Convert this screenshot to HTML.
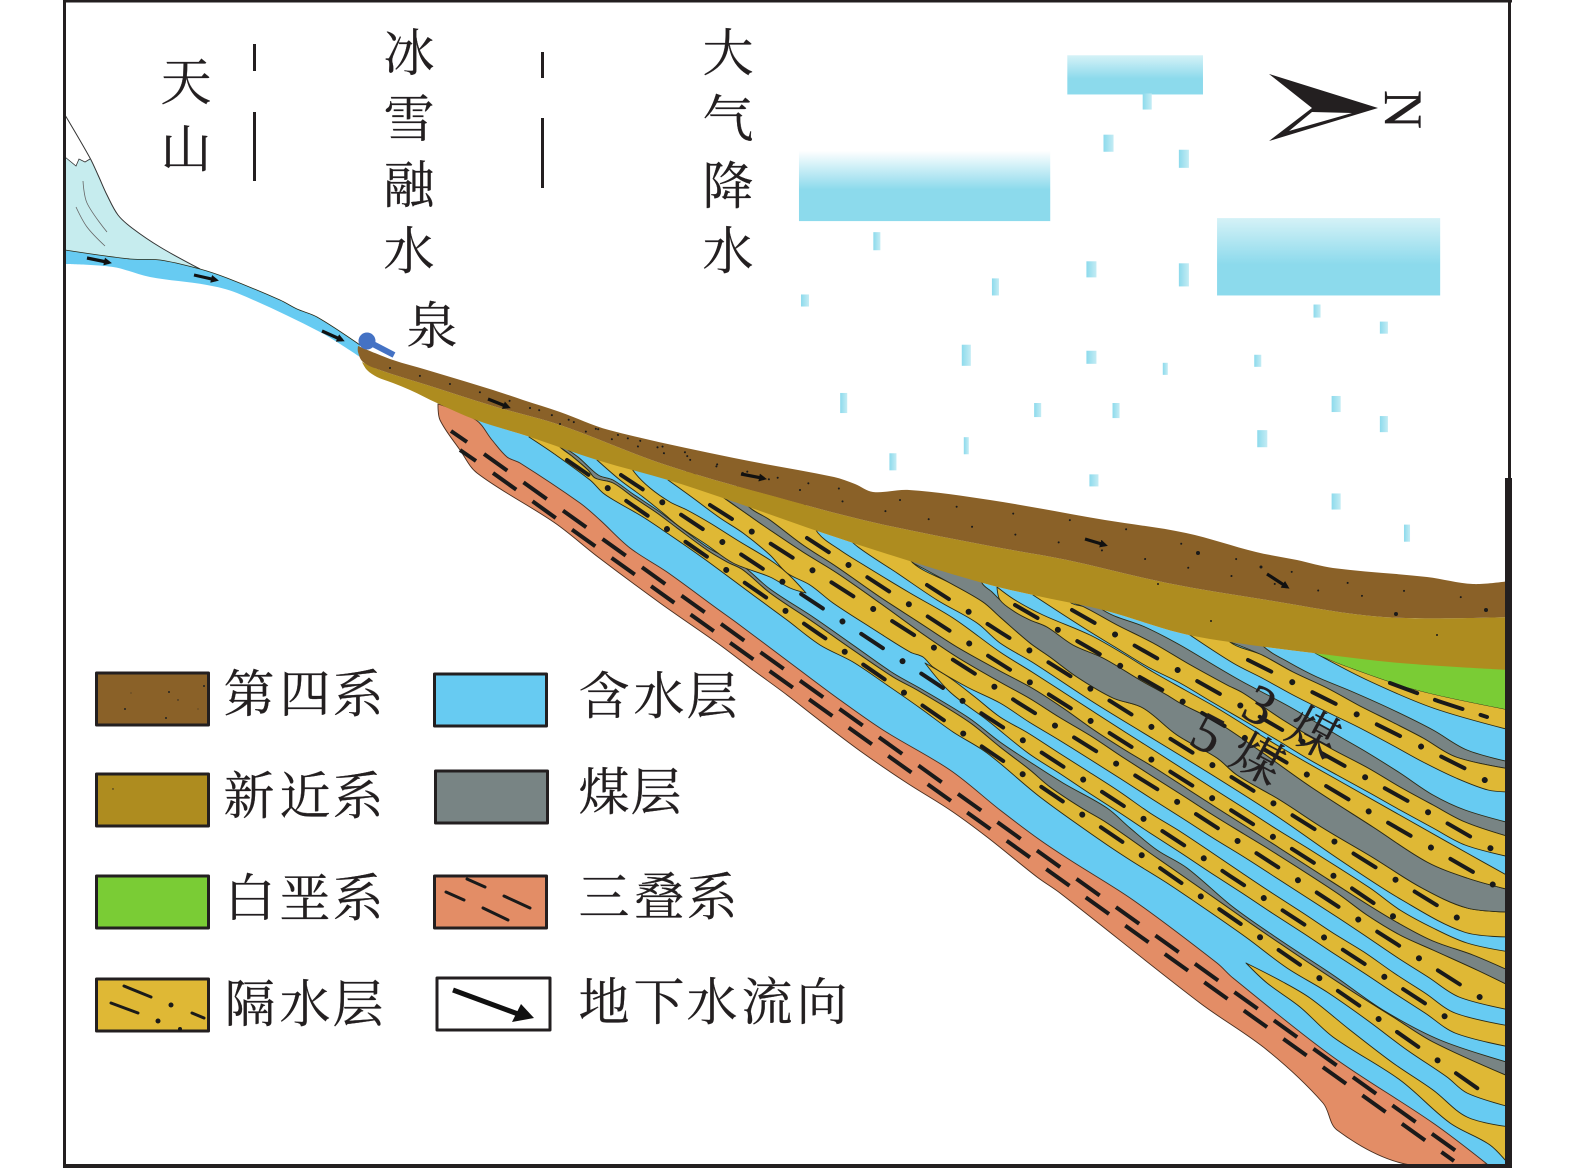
<!DOCTYPE html>
<html><head><meta charset="utf-8"><style>
html,body{margin:0;padding:0;background:#fff}
svg{display:block}
text{font-family:"Liberation Serif","Noto Serif CJK SC",serif;fill:#231f20;font-size:51px;stroke:#231f20;stroke-width:.25}
.b{stroke:#2b2a16;stroke-width:.9;stroke-linejoin:round}
.y{fill:#dfb835}.g{fill:#788484}
.d{fill:none;stroke:#1a1a1a;stroke-width:4;stroke-linecap:round;stroke-dasharray:26 46}
.o{fill:none;stroke:#1a1a1a;stroke-width:6;stroke-linecap:round;stroke-dasharray:.01 71.99;stroke-dashoffset:-49.5}
.t{fill:none;stroke:#1a1a1a;stroke-width:4;stroke-dasharray:28.6 20}
.p{fill:none;stroke:#1a1a1a;stroke-width:2;stroke-linecap:round}
.f{stroke:#111;stroke-width:3.2;marker-end:url(#ah)}
.lg{stroke:#231f20;stroke-width:3;stroke-linejoin:round}
.m{stroke:#1a1a1a;stroke-width:3;stroke-linecap:round}
</style></head><body>
<svg width="1575" height="1168" viewBox="0 0 1575 1168" xmlns="http://www.w3.org/2000/svg">
<defs>
<linearGradient id="c" x1="0" y1="0" x2="0" y2="1"><stop offset="0" stop-color="#fff"/><stop offset=".55" stop-color="#8cdaec"/><stop offset="1" stop-color="#8cdaec"/></linearGradient>
<linearGradient id="c2" x1="0" y1="0" x2="0" y2="1"><stop offset="0" stop-color="#d5f2f7"/><stop offset=".6" stop-color="#8cdaec"/><stop offset="1" stop-color="#8cdaec"/></linearGradient>
<linearGradient id="r" x1="0" y1="0" x2="1" y2="0"><stop offset="0" stop-color="#8cdaec"/><stop offset="1" stop-color="#c4ecf4"/></linearGradient>
<marker id="ah" markerWidth="10" markerHeight="10" refX="5" refY="4" orient="auto" markerUnits="userSpaceOnUse"><path d="M0 0L8 4L0 8z" fill="#111"/></marker>
<clipPath id="cp"><rect x="63" y="0" width="1443" height="1165"/></clipPath>
<path id="l1" d="M567 460L987 750L1130 847L1190 889L1370 1013L1487 1095"/>
<path id="l2" d="M621 475L987 717L1193 851L1230 876L1455 1023"/>
<path id="l3" d="M710 505L980 677L1017 702L1165 794L1287 873L1348 913L1489 1003"/>
<path id="l4" d="M807 538L990 657L1322 868L1400 921"/>
<path id="l5" d="M927 585L1000 632L1383 872L1464 922"/>
<path id="l6" d="M1015 605L1103 656L1166 692L1228 728L1311 777L1373 814L1480 876L1498 888"/>
<path id="l7" d="M1072 610L1160 660L1243 707L1325 755L1433 815L1497 852"/>
<path id="l8" d="M1248 660L1468 770L1488 782"/>
<path id="l9" d="M1390 683L1438 701L1487 717"/>
</defs>

<!-- clouds and rain -->
<g transform="scale(1.005)">
<rect x="795" y="150" width="250" height="70" fill="url(#c)"/>
<rect x="1062" y="55" width="135" height="39" fill="url(#c2)"/>
<rect x="1211" y="217" width="222" height="77" fill="url(#c2)"/>
<g fill="url(#r)">
<rect x="1137" y="93" width="9" height="16"/><rect x="1098" y="134" width="10" height="17"/><rect x="1173" y="149" width="10" height="18"/><rect x="869" y="231" width="7" height="18"/><rect x="1081" y="260" width="10" height="16"/><rect x="1173" y="262" width="10" height="23"/><rect x="987" y="277" width="7" height="17"/><rect x="797" y="293" width="8" height="12"/><rect x="1307" y="303" width="7" height="13"/><rect x="1373" y="320" width="8" height="12"/><rect x="957" y="343" width="9" height="21"/><rect x="1081" y="349" width="10" height="13"/><rect x="1157" y="361" width="5" height="12"/><rect x="1248" y="353" width="7" height="12"/><rect x="836" y="391" width="7" height="20"/><rect x="1029" y="401" width="7" height="14"/><rect x="1107" y="401" width="7" height="15"/><rect x="1325" y="394" width="9" height="16"/><rect x="1373" y="414" width="8" height="16"/><rect x="1251" y="428" width="10" height="17"/><rect x="959" y="435" width="5" height="17"/><rect x="885" y="451" width="7" height="17"/><rect x="1084" y="472" width="9" height="12"/><rect x="1325" y="491" width="9" height="16"/><rect x="1397" y="522" width="6" height="17"/>
</g></g>

<g clip-path="url(#cp)" id="geo">
<!-- mountain and channel -->
<polygon points="65,157 76,166 79,159 85,162 90,159 98,175 107,195 118,215 132,228 160,247 200,269 160,260 130,259 65,250" fill="#c6ecee"/>
<polyline points="65,115 90,158 98,175 107,195 118,215 132,228 160,247 200,269" fill="none" stroke="#333" stroke-width="1"/>
<polyline points="65,157 76,166 79,159 85,162 90,159" fill="none" stroke="#333" stroke-width=".8"/>
<polyline points="83,181 87,203 107,232" fill="none" stroke="#666" stroke-width=".8"/>
<polyline points="76,207 87,227 105,246" fill="none" stroke="#666" stroke-width=".8"/>
<polygon points="65,250 130,259 160,260 200,269 227,278 280,300 297,309 317,317 360,345 360,357 320,332 237,293 207,285 150,277 113,267 65,264" fill="#67cbf2"/>
<polyline points="65,250 130,259 160,260 200,269 227,278 280,300 297,309 317,317 360,345" fill="none" stroke="#2b2a16" stroke-width=".8"/>

<!-- base aquifer -->
<polygon points="476,420 530,437 666,478 723,498 823,533 916,563 990,585 1033,595 1103,610 1180,633 1230,642 1313,653 1400,663 1510,670 1510,1166 1487,1164 1433,1123 1333,1057 1233,978 1217,963 1133,900 1070,860 1040,840 1000,810 950,770 883,730 840,700 797,668 737,623 719,610 667,572 630,548 600,520 580,503 520,463 507,457 492,440" fill="#67cbf2"/>

<!-- Triassic -->
<polygon class="b" points="438,404 476,420 492,440 507,457 520,463 580,503 600,520 630,548 667,572 719,610 737,623 797,668 840,700 883,730 950,770 1000,810 1040,840 1070,860 1133,900 1217,963 1233,978 1333,1057 1433,1123 1487,1164 1405,1164 1337,1130 1323,1103 1267,1050 1200,1003 1060,893 1037,877 987,837 950,810 907,783 863,753 823,723 787,695 753,670 720,645 660,603 598,557 555,523 477,473 460,450 440,420" fill="#e38d66" style="stroke:#4a2f20"/>
<line class="t" x1="484" y1="454" x2="1456" y2="1151"/>
<line class="t" x1="493" y1="473" x2="1454" y2="1161"/>
<line x1="460" y1="450" x2="476" y2="461" stroke="#1a1a1a" stroke-width="4"/>
<line x1="451" y1="431" x2="467" y2="442" stroke="#1a1a1a" stroke-width="4"/>

<!-- wedge -->
<polygon class="b y" points="1246,963 1283,982 1310,998 1350,1030 1393,1063 1433,1090 1467,1117 1510,1127 1510,1166 1490,1145 1450,1123 1400,1080 1333,1037 1300,1007 1267,983"/>

<!-- band I -->
<polygon class="b g" points="562,446 578,457 592,470 600,476 613,480 633,494 657,510 677,525 707,547 727,558 743,566 770,589 813,617 853,645 893,673 923,690 969,718 1000,742 1030,762 1063,783 1107,808 1130,828 1157,850 1187,868 1233,907 1283,942 1333,975 1383,1010 1440,1040 1510,1063 1510,1077 1433,1042 1393,1017 1350,990 1300,957 1250,923 1213,897 1157,858 1107,823 1080,807 1050,787 1030,770 1000,747 969,722 917,690 893,677 853,650 813,622 770,593 743,570 727,562 707,550 677,528 657,513 633,497 613,483 595,478 588,470 573,457 560,447"/>
<polygon class="b y" points="529,437 553,453 590,480 603,493 617,502 643,517 667,533 703,558 753,595 787,620 820,645 853,662 887,685 920,708 953,732 987,753 1040,797 1100,840 1130,860 1167,883 1207,910 1247,938 1287,968 1327,992 1367,1020 1407,1050 1447,1077 1467,1093 1510,1107 1510,1077 1433,1042 1393,1017 1350,990 1300,957 1250,923 1213,897 1157,858 1107,823 1080,807 1050,787 1030,770 1000,747 969,722 917,690 893,677 853,650 813,622 770,593 743,570 727,562 707,550 677,528 657,513 633,497 613,483 595,478 588,470 573,457 560,447 545,430"/>

<!-- band II -->
<polygon class="b y" points="597,460 620,480 643,497 663,513 680,527 707,545 733,563 770,577 790,588 806,593 787,573 770,560 737,540 710,523 687,510 670,502 650,488 635,473 620,450"/>
<polygon class="b y" points="925,663 950,678 975,697 1000,717 1028,733 1059,753 1089,772 1120,792 1150,813 1181,832 1211,852 1242,873 1272,893 1303,913 1333,933 1364,952 1394,973 1425,993 1455,1013 1510,1026 1510,1047 1455,1033 1425,1013 1394,993 1364,973 1333,953 1303,933 1272,913 1242,893 1211,873 1181,853 1150,833 1120,813 1089,793 1059,773 1028,753 987,720 950,692"/>

<!-- band III -->
<polygon class="b y" points="668,480 693,498 720,518 743,533 770,555 787,573 810,585 833,603 870,627 910,652 923,657 933,667 967,687 1000,703 1029,722 1059,740 1091,760 1121,779 1152,799 1182,818 1213,838 1244,857 1275,877 1337,917 1367,937 1398,958 1428,977 1459,997 1510,1010 1510,986 1477,970 1433,950 1400,935 1367,915 1337,893 1275,853 1244,834 1213,815 1182,795 1152,776 1121,756 1091,736 1059,717 1029,698 1000,682 957,657 920,632 880,603 837,573 803,552 770,530 747,514 720,495 690,470"/>

<!-- gray 4 -->
<polygon class="b g" points="720,495 747,505 770,520 803,545 837,567 880,597 920,623 957,647 1000,671 1032,688 1063,708 1094,730 1125,750 1155,768 1186,788 1217,808 1247,827 1278,847 1309,867 1370,906 1400,924 1433,941 1473,955 1510,971 1510,986 1477,970 1433,950 1400,935 1367,915 1337,893 1275,853 1244,834 1213,815 1182,795 1152,776 1121,756 1091,736 1059,717 1029,698 1000,682 957,657 920,632 880,603 837,573 803,552 770,530 747,514"/>

<!-- band IV -->
<polygon class="b y" points="818,533 840,550 867,567 910,593 953,618 1000,652 1032,672 1063,692 1094,712 1125,732 1155,751 1186,771 1217,791 1247,810 1278,830 1309,849 1370,888 1400,910 1433,928 1467,943 1510,952 1510,971 1473,955 1433,941 1400,924 1370,906 1309,867 1278,847 1247,827 1217,808 1186,788 1155,768 1125,750 1094,730 1063,708 1032,688 1000,671 957,647 920,623 880,597 837,567 803,545 770,520 747,505 735,480 800,500"/>

<!-- band V -->
<polygon class="b y" points="858,547 897,573 937,600 977,623 1000,643 1032,662 1093,702 1155,740 1217,778 1278,817 1340,860 1402,900 1464,932 1510,937 1510,912 1467,908 1422,888 1372,857 1323,828 1280,800 1237,775 1217,758 1177,735 1143,708 1113,698 1077,677 1050,657 1030,643 1000,617 983,602 950,583 913,563 890,530 840,530"/>

<!-- gray 3 -->
<polygon class="b g" points="913,563 950,583 983,602 1000,617 1030,643 1050,657 1077,677 1113,698 1143,708 1177,735 1217,758 1237,775 1280,800 1323,828 1372,857 1422,888 1467,908 1510,912 1510,890 1467,878 1427,862 1373,827 1311,787 1263,753 1217,722 1180,703 1167,695 1140,680 1103,658 1073,645 1047,627 1030,620 1015,612 1000,600 992,592 982,583 975,560 910,540"/>

<!-- yD -->
<polygon class="b y" points="997,587 1015,600 1043,615 1090,635 1122,653 1153,672 1185,690 1217,708 1280,747 1343,783 1405,818 1467,853 1510,877 1510,890 1467,878 1427,862 1373,827 1311,787 1263,753 1217,722 1180,703 1167,695 1140,680 1103,658 1073,645 1047,627 1030,620 1015,612 1000,600"/>

<!-- yC and gray 2 -->
<polygon class="b g" points="1070,602 1084,607 1117,625 1153,643 1187,663 1227,685 1243,693 1283,720 1330,748 1368,768 1400,787 1433,805 1465,822 1510,837 1510,823 1465,810 1433,795 1400,773 1368,753 1337,735 1290,707 1243,682 1217,667 1180,645 1145,627 1103,610 1090,590"/>
<polygon class="b y" points="1033,595 1084,628 1115,647 1148,667 1180,683 1212,702 1243,720 1277,740 1310,760 1337,775 1368,792 1400,810 1433,828 1465,845 1510,857 1510,837 1465,822 1433,805 1400,787 1368,768 1330,748 1283,720 1243,693 1227,685 1187,663 1153,643 1117,625 1084,607 1070,602 1060,580"/>

<!-- yB and gray 1 -->
<polygon class="b g" points="1230,642 1262,655 1293,672 1327,688 1358,705 1392,722 1423,738 1456,757 1510,769 1510,762 1467,750 1433,730 1393,710 1353,692 1317,677 1290,663 1263,646 1250,625"/>
<polygon class="b y" points="1187,633 1233,663 1262,678 1293,695 1327,712 1358,727 1392,745 1423,762 1456,778 1488,790 1510,792 1510,769 1456,757 1423,738 1392,722 1358,705 1327,688 1293,672 1262,655 1230,642 1215,620"/>

<!-- yA and Cretaceous -->
<polygon class="b y" points="1315,653 1343,665 1417,690 1510,710 1510,730 1433,708 1367,680"/>
<polygon points="1300,645 1510,660 1510,710 1417,690 1343,665 1315,653" fill="#7acc35"/>

<!-- dash-dot lines -->
<use href="#l1" class="d"/><use href="#l1" class="o"/>
<use href="#l2" class="d"/><use href="#l2" class="o"/>
<use href="#l3" class="d"/><use href="#l3" class="o"/>
<use href="#l4" class="d"/><use href="#l4" class="o"/>
<use href="#l5" class="d"/><use href="#l5" class="o"/>
<use href="#l6" class="d"/><use href="#l6" class="o"/>
<use href="#l7" class="d"/><use href="#l7" class="o"/>
<use href="#l8" class="d"/><use href="#l8" class="o"/>
<use href="#l9" class="d" style="stroke-dasharray:29 19"/>

<!-- Neogene -->
<polygon points="362,362 367,370 377,377 393,383 410,390 437,403 476,420 530,437 597,460 668,480 723,498 823,533 916,563 990,585 1033,595 1103,610 1180,633 1230,642 1313,653 1400,663 1510,670 1510,617 1383,617 1267,600 1167,583 1067,560 990,546 876,523 787,500 666,465 560,425 493,406 427,385 380,370" fill="#ae8c1f"/>
<!-- Quaternary -->
<polygon points="358,346 393,360 427,370 493,390 523,400 560,412 609,430 734,458 834,477 855,484 873,492 909,490 990,500 1105,520 1186,533 1256,552 1297,560 1333,568 1427,577 1473,584 1510,581 1510,617 1383,617 1267,600 1167,583 1067,560 990,546 876,523 787,500 666,465 560,425 493,406 427,385 380,370 363,362 358,352" fill="#8a6128"/>

<!-- speckle -->
<polyline class="p" points="390,368 500,398 620,436 740,470 860,492" stroke-dasharray=".01 31" stroke-width="1.6"/>
<polyline class="p" points="530,408 600,430 700,456" stroke-dasharray=".01 23" stroke-width="1.5"/>
<polyline class="p" points="560,424 640,447 780,482" stroke-dasharray=".01 27" stroke-width="1.5"/>
<polyline class="p" points="800,490 870,508 990,530 1100,550 1200,570 1300,588 1400,600" stroke-dasharray=".01 44" stroke-width="2"/>
<polyline class="p" points="900,500 1000,512 1120,528 1240,560 1360,585 1490,600" stroke-dasharray=".01 57" stroke-width="2"/>
<g fill="#1a1a1a"><circle cx="1198" cy="553" r="2"/><circle cx="1396" cy="614" r="2"/><circle cx="1486" cy="610" r="2"/><circle cx="1261" cy="567" r="1.5"/><circle cx="1158" cy="584" r="1"/><circle cx="1211" cy="621" r="1"/><circle cx="1437" cy="635" r="1"/></g>

<!-- flow arrows -->
<line class="f" x1="87" y1="258" x2="109" y2="262.500"/>
<line class="f" x1="194" y1="275" x2="216" y2="280"/>
<line class="f" x1="322" y1="331" x2="342" y2="340"/>
<line class="f" x1="488" y1="399" x2="508" y2="407"/>
<line class="f" x1="741" y1="474" x2="764" y2="478.500"/>
<line class="f" x1="1085" y1="539" x2="1105" y2="545"/>
<line class="f" x1="1267" y1="574" x2="1287" y2="587"/>

<!-- spring -->
<line x1="367" y1="341" x2="394" y2="355" stroke="#4472c4" stroke-width="6"/>
<circle cx="367" cy="341" r="8.500" fill="#4472c4"/>
</g>

<!-- frame -->
<rect x="63" y="0" width="3" height="1168" fill="#231f20"/>
<rect x="63" y="0" width="1449" height="2.5" fill="#231f20"/>
<rect x="1508" y="0" width="3" height="480" fill="#231f20"/>
<rect x="1505" y="478" width="7" height="690" fill="#231f20"/>
<rect x="63" y="1164" width="1449" height="4" fill="#231f20"/>

<!-- vertical separators -->
<rect x="253" y="44" width="3" height="27" fill="#231f20"/>
<rect x="253" y="112" width="3" height="69" fill="#231f20"/>
<rect x="541" y="52" width="3" height="26" fill="#231f20"/>
<rect x="541" y="118" width="3" height="70" fill="#231f20"/>

<!-- vertical labels -->
<g text-anchor="middle">
<text x="186" y="100">天</text><text x="186" y="167">山</text>
<text x="409" y="71">冰</text><text x="409" y="137">雪</text><text x="409" y="203">融</text><text x="409" y="269">水</text>
<text x="728" y="71">大</text><text x="728" y="137">气</text><text x="728" y="204">降</text><text x="728" y="269">水</text>
<text x="432" y="344">泉</text>
</g>

<!-- north arrow -->
<polygon points="1378,108 1269,74 1312,108 1269,141" fill="#231f20"/>
<polygon points="1312,112 1289,131 1352,113" fill="#fff"/>
<text transform="translate(1385,90) rotate(90)" style="font-size:54px" x="0" y="0">N</text>

<!-- coal labels -->
<g transform="translate(1260,705) rotate(28)" text-anchor="middle"><text x="0" y="19" style="font-size:56px">3</text><text x="60" y="17" style="font-size:50px">煤</text></g>
<g transform="translate(1208,733) rotate(28)" text-anchor="middle"><text x="0" y="19" style="font-size:56px">5</text><text x="56" y="17" style="font-size:50px">煤</text></g>

<!-- legend -->
<rect class="lg" x="96.500" y="673" width="112" height="52" fill="#8a6128"/>
<rect class="lg" x="96.500" y="774" width="112" height="52" fill="#ae8c1f"/>
<rect class="lg" x="96.500" y="876" width="112" height="52" fill="#7acc35"/>
<rect class="lg" x="96.500" y="979" width="112" height="52" fill="#dfb835"/>
<rect class="lg" x="434.500" y="674" width="112" height="52" fill="#67cbf2"/>
<rect class="lg" x="435.500" y="771" width="112" height="52" fill="#788484"/>
<rect class="lg" x="434.500" y="876" width="112" height="52" fill="#e38d66"/>
<rect class="lg" x="437" y="978" width="113" height="52" fill="#fff"/>
<g fill="#222"><circle cx="169" cy="692" r="1"/><circle cx="125" cy="709" r="1"/><circle cx="166" cy="718" r="1"/><circle cx="204" cy="686" r="1"/><circle cx="178" cy="700" r=".7"/><circle cx="131" cy="693" r=".5"/><circle cx="198" cy="709" r=".5"/><circle cx="113" cy="789" r=".7"/></g>
<g>
<line class="m" x1="124" y1="986" x2="151" y2="997"/><line class="m" x1="111" y1="1003" x2="138" y2="1013"/><line class="m" x1="192" y1="1013" x2="204" y2="1018"/>
<line class="m" x1="467" y1="879" x2="485" y2="887"/><line class="m" x1="446" y1="892" x2="464" y2="900"/><line class="m" x1="504" y1="896" x2="530" y2="908"/><line class="m" x1="483" y1="908" x2="508" y2="920"/>
</g>
<g fill="#1a1a1a"><circle cx="171" cy="1005" r="2.5"/><circle cx="158" cy="1021" r="2.5"/><circle cx="180" cy="1029" r="2"/></g>
<line x1="453" y1="990" x2="518" y2="1014" stroke="#111" stroke-width="5"/>
<polygon points="534,1018 521,1004 512,1022" fill="#111"/>

<g text-anchor="middle">
<text x="249" y="712">第</text><text x="305" y="712">四</text><text x="358" y="712">系</text>
<text x="249" y="814">新</text><text x="305" y="814">近</text><text x="358" y="814">系</text>
<text x="250" y="916">白</text><text x="305" y="916">垩</text><text x="358" y="916">系</text>
<text x="250" y="1022">隔</text><text x="305" y="1022">水</text><text x="358" y="1022">层</text>
<text x="604" y="714">含</text><text x="659" y="714">水</text><text x="712" y="714">层</text>
<text x="604" y="810">煤</text><text x="656" y="810">层</text>
<text x="604" y="915">三</text><text x="659" y="915">叠</text><text x="712" y="915">系</text>
<text x="604" y="1020">地</text><text x="659" y="1020">下</text><text x="712" y="1020">水</text><text x="767" y="1020">流</text><text x="822" y="1020">向</text>
</g>
</svg>
<script>
(function(){
var ns='http://www.w3.org/2000/svg',g=document.getElementById('geo');
var els=g.querySelectorAll('polygon,polyline');
function parse(s){var a=s.trim().split(/\s+/),r=[];for(var i=0;i<a.length;i++){var q=a[i].split(',');r.push([+q[0],+q[1]]);}return r;}
function L(a,b){return Math.hypot(a[0]-b[0],a[1]-b[1])||1;}
for(var e=0;e<els.length;e++){
 var el=els[e],closed=el.tagName==='polygon',p=parse(el.getAttribute('points')),n=p.length,T=[];
 for(var i=0;i<n;i++){
  var pv=closed?p[(i-1+n)%n]:p[Math.max(i-1,0)],nx=closed?p[(i+1)%n]:p[Math.min(i+1,n-1)],c=p[i];
  var a1=L(c,pv),a2=L(nx,c),ct=((c[0]-pv[0])*(nx[0]-c[0])+(c[1]-pv[1])*(nx[1]-c[1]))/(a1*a2);
  if(ct<0.64||pv===c||nx===c){T.push(null);continue;}
  var d=L(nx,pv);T.push([(nx[0]-pv[0])/d,(nx[1]-pv[1])/d]);
 }
 var m=n-(closed?0:1),s='M'+p[0][0]+' '+p[0][1];
 for(var j=0;j<m;j++){
  var k=(j+1)%n,A=p[j],B=p[k],l=L(A,B)/3,ta=T[j],tb=T[k];
  var c1=ta?[A[0]+ta[0]*l,A[1]+ta[1]*l]:A,c2=tb?[B[0]-tb[0]*l,B[1]-tb[1]*l]:B;
  s+='C'+c1[0].toFixed(1)+' '+c1[1].toFixed(1)+' '+c2[0].toFixed(1)+' '+c2[1].toFixed(1)+' '+B[0]+' '+B[1];
 }
 if(closed)s+='Z';
 var pa=document.createElementNS(ns,'path');
 for(var t=0;t<el.attributes.length;t++){var at=el.attributes[t];if(at.name!=='points')pa.setAttribute(at.name,at.value);}
 pa.setAttribute('d',s);el.parentNode.replaceChild(pa,el);
}
})();
</script>
</body></html>
